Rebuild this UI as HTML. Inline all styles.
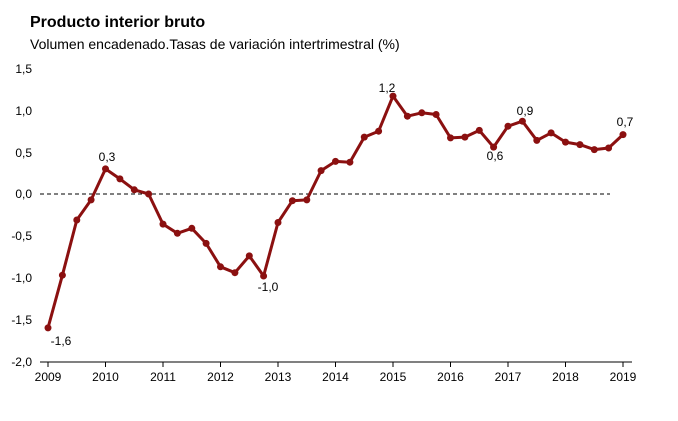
<!DOCTYPE html>
<html><head><meta charset="utf-8"><style>
body{margin:0;background:#fff;width:678px;height:416px;overflow:hidden}
svg text{font-family:"Liberation Sans",sans-serif}
</style></head><body>
<svg width="678" height="416" viewBox="0 0 678 416" xmlns="http://www.w3.org/2000/svg">
<text x="30" y="27" font-size="16" font-weight="bold" fill="#000">Producto interior bruto</text>
<text x="30" y="49" font-size="14" fill="#000">Volumen encadenado.Tasas de variación intertrimestral (%)</text>
<g font-size="12" fill="#000" text-anchor="end">
<text x="32" y="73">1,5</text>
<text x="32" y="115">1,0</text>
<text x="32" y="157">0,5</text>
<text x="32" y="198">0,0</text>
<text x="32" y="240">-0,5</text>
<text x="32" y="282">-1,0</text>
<text x="32" y="324">-1,5</text>
<text x="32" y="366">-2,0</text>
</g>
<line x1="40" y1="362" x2="632" y2="362" stroke="#000" stroke-width="1"/>
<g stroke="#000">
<line x1="48" y1="362" x2="48" y2="367"/><line x1="105.5" y1="362" x2="105.5" y2="367"/>
<line x1="163" y1="362" x2="163" y2="367"/><line x1="220.5" y1="362" x2="220.5" y2="367"/>
<line x1="278" y1="362" x2="278" y2="367"/><line x1="335.5" y1="362" x2="335.5" y2="367"/>
<line x1="393" y1="362" x2="393" y2="367"/><line x1="450.5" y1="362" x2="450.5" y2="367"/>
<line x1="508" y1="362" x2="508" y2="367"/><line x1="565.5" y1="362" x2="565.5" y2="367"/>
<line x1="623" y1="362" x2="623" y2="367"/>
</g>
<g font-size="12" fill="#000" text-anchor="middle">
<text x="48" y="381">2009</text><text x="105.5" y="381">2010</text><text x="163" y="381">2011</text>
<text x="220.5" y="381">2012</text><text x="278" y="381">2013</text><text x="335.5" y="381">2014</text>
<text x="393" y="381">2015</text><text x="450.5" y="381">2016</text><text x="508" y="381">2017</text>
<text x="565.5" y="381">2018</text><text x="623" y="381">2019</text>
</g>
<line x1="40" y1="194" x2="610" y2="194" stroke="#000" stroke-dasharray="4,3" stroke-width="1"/>
<polyline fill="none" stroke="#8B1010" stroke-width="3" stroke-linejoin="round" points="48,327.9 62.4,275.2 76.8,220 91.1,199.9 105.5,168.9 119.9,178.9 134.3,189.8 148.6,194 163,224.1 177.4,233.3 191.8,228.3 206.1,243.4 220.5,266.8 234.9,272.7 249.3,255.9 263.6,276 278,222.5 292.4,200.7 306.8,199.9 321.1,170.6 335.5,161.4 349.9,162.2 364.3,137.1 378.6,131.2 393,96.1 407.4,116.2 421.8,112.8 436.1,114.5 450.5,137.9 464.9,137.1 479.3,130.4 493.6,147.1 508,126.2 522.4,121.2 536.8,140.4 551.1,132.9 565.5,142.1 579.9,144.6 594.3,149.6 608.6,148 623,134.6"/>
<g fill="#8B1010">
<circle cx="48" cy="327.9" r="3.5"/><circle cx="62.4" cy="275.2" r="3.5"/><circle cx="76.8" cy="220" r="3.5"/><circle cx="91.1" cy="199.9" r="3.5"/>
<circle cx="105.5" cy="168.9" r="3.5"/><circle cx="119.9" cy="178.9" r="3.5"/><circle cx="134.3" cy="189.8" r="3.5"/><circle cx="148.6" cy="194" r="3.5"/>
<circle cx="163" cy="224.1" r="3.5"/><circle cx="177.4" cy="233.3" r="3.5"/><circle cx="191.8" cy="228.3" r="3.5"/><circle cx="206.1" cy="243.4" r="3.5"/>
<circle cx="220.5" cy="266.8" r="3.5"/><circle cx="234.9" cy="272.7" r="3.5"/><circle cx="249.3" cy="255.9" r="3.5"/><circle cx="263.6" cy="276" r="3.5"/>
<circle cx="278" cy="222.5" r="3.5"/><circle cx="292.4" cy="200.7" r="3.5"/><circle cx="306.8" cy="199.9" r="3.5"/><circle cx="321.1" cy="170.6" r="3.5"/>
<circle cx="335.5" cy="161.4" r="3.5"/><circle cx="349.9" cy="162.2" r="3.5"/><circle cx="364.3" cy="137.1" r="3.5"/><circle cx="378.6" cy="131.2" r="3.5"/>
<circle cx="393" cy="96.1" r="3.5"/><circle cx="407.4" cy="116.2" r="3.5"/><circle cx="421.8" cy="112.8" r="3.5"/><circle cx="436.1" cy="114.5" r="3.5"/>
<circle cx="450.5" cy="137.9" r="3.5"/><circle cx="464.9" cy="137.1" r="3.5"/><circle cx="479.3" cy="130.4" r="3.5"/><circle cx="493.6" cy="147.1" r="3.5"/>
<circle cx="508" cy="126.2" r="3.5"/><circle cx="522.4" cy="121.2" r="3.5"/><circle cx="536.8" cy="140.4" r="3.5"/><circle cx="551.1" cy="132.9" r="3.5"/>
<circle cx="565.5" cy="142.1" r="3.5"/><circle cx="579.9" cy="144.6" r="3.5"/><circle cx="594.3" cy="149.6" r="3.5"/><circle cx="608.6" cy="148" r="3.5"/>
<circle cx="623" cy="134.6" r="3.5"/>
</g>
<g font-size="12" fill="#000" text-anchor="middle">
<text x="61" y="345">-1,6</text>
<text x="107" y="161">0,3</text>
<text x="268" y="291">-1,0</text>
<text x="387" y="92">1,2</text>
<text x="495" y="160">0,6</text>
<text x="525" y="115">0,9</text>
<text x="625" y="126">0,7</text>
</g>
</svg>
</body></html>
